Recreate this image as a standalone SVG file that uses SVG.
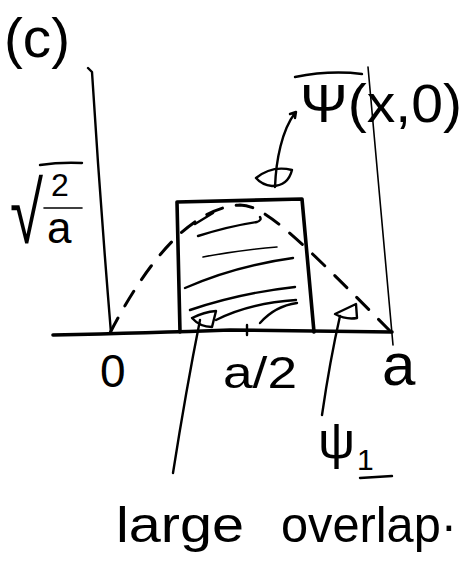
<svg xmlns="http://www.w3.org/2000/svg" width="466" height="577" viewBox="0 0 466 577">
<style>
.ink{fill:none;stroke:#000;stroke-linecap:round;stroke-linejoin:round}
.t{font-family:"Liberation Sans",Arial,sans-serif;fill:#000}
.thin{stroke-width:1.6}
.med{stroke-width:2.4}
.thick{stroke-width:3.6}
.dash{stroke-dasharray:17 14;stroke-width:3}
</style>
<rect width="466" height="577" fill="#fff"/>
<g id="label-c"><text class="t" x="4" y="57" font-size="56" textLength="66" lengthAdjust="spacingAndGlyphs">(c)</text></g>
<g id="axes">
<path class="ink med" d="M88,68 L92,72 Q100,200 111,333"/>
<path class="ink thin" d="M368,67 Q380,200 393,345"/>
<path class="ink thick" d="M53,335 Q150,333 230,330 Q300,331 392,332"/>
<path class="ink med" d="M247,325 L247,335"/>
</g>
<g id="sqrt-label">
<text class="t" x="10" y="243" font-size="86" font-family="DejaVu Sans" transform="translate(10,0) scale(0.7,1) translate(-10,0)">√</text>
<path class="ink med" d="M40,165 Q60,162 82,163"/>
<text class="t" x="51" y="196" font-size="32">2</text>
<path class="ink thin" d="M44,208 L82,208"/>
<text class="t" x="47" y="243" font-size="44">a</text>
</g>
<g id="psi-curve">
<path class="ink dash" d="M110,333 C140,275 185,208 240,205 C265,205 300,240 392,333"/>
</g>
<g id="box">
<path class="ink thick" d="M177,202 L180,332 M177,202 L302,199 L314,332"/>
<g class="ink med">
<path d="M195,224 L213,213"/>
<path d="M198,236 Q230,226 257,222 Q262,220 260,217"/>
<path class="thin" d="M203,257 Q240,250 277,247"/>
<path d="M185,288 Q235,266 293,258"/>
<path d="M190,310 Q240,293 295,287"/>
<path d="M216,320 Q250,303 296,300"/>
<path d="M260,323 Q275,306 297,303"/>
</g>
</g>
<g id="psi-x0-label">
<path class="ink med" d="M295,77 Q330,70 362,74"/>
<text class="t" x="300" y="122" font-size="54" textLength="162" lengthAdjust="spacingAndGlyphs">Ψ(x,0)</text>
</g>
<g id="eye-marker">
<path class="ink med" d="M256,178 Q272,165 292,170 Q288,186 272,186 Q262,185 256,178 Z"/>
</g>
<g id="marker-overlap">
<path class="ink med" d="M192,318 Q204,312 216,311 L212,327 Q200,327 192,318 Z"/>
</g>
<g id="marker-psi1">
<path class="ink med" d="M335,314 L356,304 L357,318 Q346,320 335,314 Z"/>
</g>
<g id="tick-labels">
<text class="t" x="100" y="387" font-size="46">0</text>
<text class="t" x="223" y="388" font-size="44" textLength="74" lengthAdjust="spacingAndGlyphs">a/2</text>
<text class="t" x="382" y="385" font-size="60">a</text>
</g>
<g id="psi1-label">
<text class="t" x="318" y="458" font-size="52">ψ<tspan font-size="30" dx="2" dy="12">1</tspan></text>
<path class="ink med" d="M360,478 L392,476"/>
</g>
<g id="overlap-label">
<text class="t" y="542" font-size="50"><tspan x="116" textLength="128" lengthAdjust="spacingAndGlyphs">large</tspan><tspan x="281" textLength="176" lengthAdjust="spacingAndGlyphs">overlap·</tspan></text>
</g>
<g id="connectors">
<path class="ink med" d="M275,187 C276,160 282,130 295,113 M290,114 L296,112 L295,118"/>
<path class="ink med" d="M173,473 Q186,390 200,320"/>
<path class="ink med" d="M322,415 Q330,360 340,316"/>
</g>
</svg>
